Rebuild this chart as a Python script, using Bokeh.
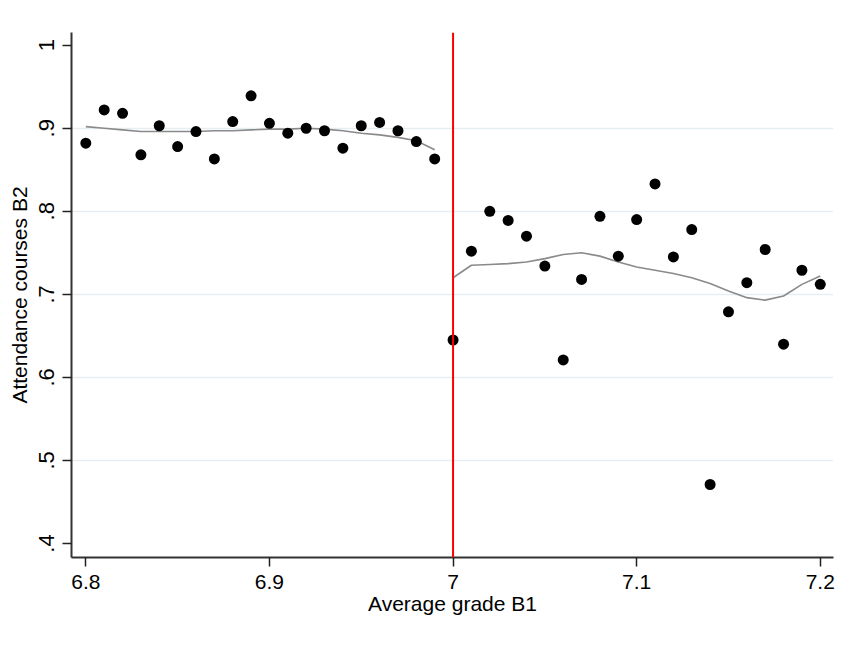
from bokeh.plotting import figure
from bokeh.models import FixedTicker, Span, Range1d
from bokeh.embed import file_html
from bokeh.resources import INLINE

# ---- data ----
grade_left = [6.80, 6.81, 6.82, 6.83, 6.84, 6.85, 6.86, 6.87, 6.88, 6.89,
              6.90, 6.91, 6.92, 6.93, 6.94, 6.95, 6.96, 6.97, 6.98, 6.99]
att_left = [0.882, 0.922, 0.918, 0.868, 0.903, 0.878, 0.896, 0.863, 0.908, 0.939,
            0.906, 0.894, 0.900, 0.897, 0.876, 0.903, 0.907, 0.897, 0.884, 0.863]
fit_left = [0.902, 0.900, 0.898, 0.896, 0.896, 0.896, 0.896, 0.897, 0.897, 0.898,
            0.899, 0.899, 0.900, 0.899, 0.897, 0.894, 0.892, 0.889, 0.885, 0.874]

grade_right = [7.00, 7.01, 7.02, 7.03, 7.04, 7.05, 7.06, 7.07, 7.08, 7.09, 7.10,
               7.11, 7.12, 7.13, 7.14, 7.15, 7.16, 7.17, 7.18, 7.19, 7.20]
att_right = [0.645, 0.752, 0.800, 0.789, 0.770, 0.734, 0.621, 0.718, 0.794, 0.746, 0.790,
             0.833, 0.745, 0.778, 0.471, 0.679, 0.714, 0.754, 0.640, 0.729, 0.712]
fit_right = [0.720, 0.735, 0.736, 0.737, 0.739, 0.743, 0.748, 0.750, 0.746, 0.739, 0.733,
             0.729, 0.725, 0.720, 0.713, 0.704, 0.696, 0.693, 0.698, 0.712, 0.722]

cutoff = 7.0
x_ticks = [6.8, 6.9, 7.0, 7.1, 7.2]
x_tick_labels = ["6.8", "6.9", "7", "7.1", "7.2"]
y_ticks = [0.4, 0.5, 0.6, 0.7, 0.8, 0.9, 1.0]
y_tick_labels = [".4", ".5", ".6", ".7", ".8", ".9", "1"]
grid_ticks = [0.5, 0.6, 0.7, 0.8, 0.9]
x_title = "Average grade B1"
y_title = "Attendance courses B2"

FONT = "Liberation Sans"

p = figure(width=841, height=638, output_backend="svg", toolbar_location=None,
           x_range=Range1d(6.7922, 7.2072), y_range=Range1d(0.3831, 1.0153),
           min_border_left=71, min_border_top=32, min_border_right=8, min_border_bottom=81)
p.outline_line_color = None
p.background_fill_color = "white"
p.border_fill_color = "white"

# grid
p.xgrid.visible = False
p.ygrid.ticker = FixedTicker(ticks=grid_ticks)
p.ygrid.grid_line_color = "#e6eef1"
p.ygrid.grid_line_width = 1.5

# fitted lines
p.line(grade_left, fit_left, line_color="#8a8a8a", line_width=1.6)
p.line(grade_right, fit_right, line_color="#8a8a8a", line_width=1.6)

# points
p.scatter(grade_left, att_left, size=11, fill_color="black", line_color=None)
p.scatter(grade_right, att_right, size=11, fill_color="black", line_color=None)

# cutoff
p.add_layout(Span(location=cutoff, dimension="height", line_color="#ff0000", line_width=2))

# axes
for ax in (p.xaxis[0], p.yaxis[0]):
    ax.axis_line_color = "#333333"
    ax.axis_line_width = 2
    ax.major_tick_line_color = "#222222"
    ax.major_tick_line_width = 1.5
    ax.major_tick_out = 9
    ax.major_tick_in = 0
    ax.minor_tick_line_color = None
    ax.major_label_text_font = FONT
    ax.major_label_text_font_size = "21px"
    ax.major_label_text_color = "black"
    ax.axis_label_text_font = FONT
    ax.axis_label_text_font_size = "21px"
    ax.axis_label_text_font_style = "normal"
    ax.axis_label_text_color = "black"

p.xaxis.ticker = FixedTicker(ticks=x_ticks)
p.xaxis.major_label_overrides = {t: l for t, l in zip(x_ticks, x_tick_labels)}
p.xaxis.axis_label = x_title
p.xaxis.major_label_standoff = 8
p.xaxis.axis_label_standoff = 0

p.yaxis.ticker = FixedTicker(ticks=y_ticks)
p.yaxis.major_label_overrides = {t: l for t, l in zip(y_ticks, y_tick_labels)}
p.yaxis.major_label_orientation = "vertical"
p.yaxis.major_label_text_font_size = "22px"
p.yaxis.axis_label = y_title
p.yaxis.major_label_standoff = 8
p.yaxis.axis_label_standoff = 6

open("out.html", "w").write(file_html(p, INLINE))
